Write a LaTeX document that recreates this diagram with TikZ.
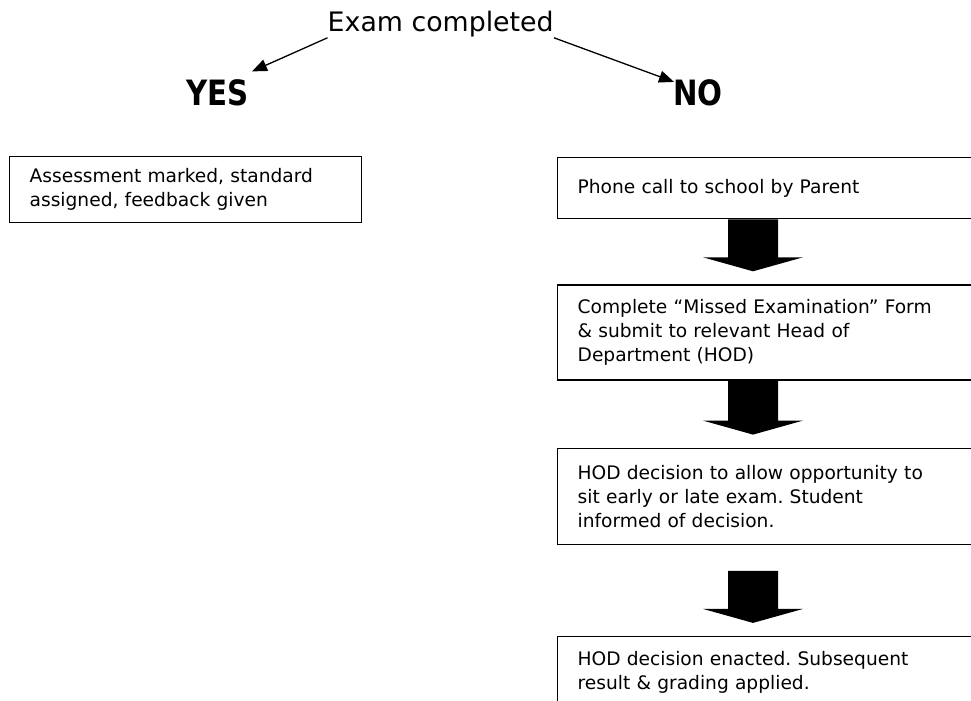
\documentclass[tikz,border=0pt]{standalone}
\usepackage{fontspec}
\setmainfont{DejaVu Sans}
\newfontfamily\answerfont{DejaVu Sans}[FakeStretch=0.84]
\frenchspacing
\usetikzlibrary{arrows.meta,positioning,calc}
\tikzset{
  question/.style={inner sep=0pt,font=\fontsize{26.9}{32}\selectfont},
  answer/.style={inner sep=0pt,font=\fontsize{35}{40}\selectfont\answerfont\bfseries},
  process/.style={rectangle,draw,line width=1.3bp,align=left,inner xsep=20bp,inner ysep=0pt,font=\fontsize{18.7}{24}\selectfont},
  pointer/.style={-{Triangle[length=15bp,width=12bp]},line width=1.3bp}
}

\begin{document}
\begin{tikzpicture}[x=1bp,y=-1bp]
  \useasboundingbox (0,0) rectangle (971,701);
  \fill[white] (0,0) rectangle (971,701);
  \clip (0,0) rectangle (971,701);
  % question and the two answers
  \node[question,anchor=base west] (exam) at (327.5,32) {Exam completed};
  \node[answer,anchor=base east] (yes) at (249,106) {YES};
  \node[answer,anchor=base west] (no) at (673,106) {NO};
  \draw[pointer] (exam.south west) -- ([shift={(3,-8.5)}]yes.north east);
  \draw[pointer] (exam.south east) -- ([shift={(1,2)}]no.north west);
  % yes branch
  \node[process,text width=312bp,minimum height=66bp,anchor=north west] (marked) at (9,156)
    {Assessment marked, standard\\assigned, feedback given};
  % no branch
  \node[process,text width=430bp,minimum height=61bp,anchor=north west] (phone) at (557,157)
    {Phone call to school by Parent};
  \node[process,text width=430bp,minimum height=95bp,below=65bp of phone] (form)
    {Complete “Missed Examination” Form\\\& submit to relevant Head of\\Department (HOD)};
  \node[process,text width=430bp,minimum height=96bp,below=67bp of form] (decision)
    {HOD decision to allow opportunity to\\sit early or late exam. Student\\informed of decision.};
  \node[process,text width=430bp,minimum height=72bp,below=91bp of decision] (enacted)
    {HOD decision enacted. Subsequent\\result \& grading applied.};
  % block arrows
  \coordinate (ax) at (753,0);
  \foreach \a/\b/\g in {phone/form/0, form/decision/0, decision/enacted/26}{
    \path (ax |- \a.south) ++(0,\g) coordinate (s) (ax |- \b.north) ++(0,-13) coordinate (t);
    \fill ($(s)+(-25,0)$) -- ($(s)+(25,0)$) -- ($(t)+(25,-14)$) -- ($(t)+(50,-14)$) -- (t)
      -- ($(t)+(-50,-14)$) -- ($(t)+(-25,-14)$) -- cycle;
  }
\end{tikzpicture}
\end{document}
